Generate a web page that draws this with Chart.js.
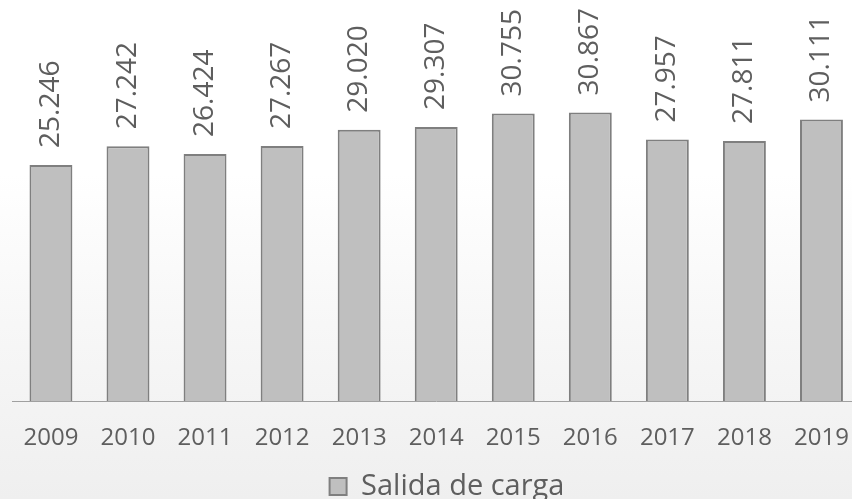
<!DOCTYPE html>
<html><head><meta charset="utf-8">
<script src="https://cdn.jsdelivr.net/npm/chart.js@4.4.1/dist/chart.umd.min.js"></script>
<style>
html,body{margin:0;padding:0;overflow:hidden;width:852px;height:499px;}
body{background:linear-gradient(to bottom,#ffffff 0%,#ffffff 35%,#f7f7f7 65%,#efefef 100%);}
#wrap{position:absolute;left:0;top:0;width:883px;height:499px;}
</style></head><body>
<div id="wrap"><canvas id="c"></canvas></div>
<script>
const categories = ['2009','2010','2011','2012','2013','2014','2015','2016','2017','2018','2019'];
const values = [25246, 27242, 26424, 27267, 29020, 29307, 30755, 30867, 27957, 27811, 30111];
const seriesName = 'Salida de carga';
const yMin = 0;
const yMax = 40000;

const TEXT = '#5e5e5e';
const FONT = "'Open Sans', 'DejaVu Sans', sans-serif";

function fmt(v){
  return String(v).replace(/\B(?=(\d{3})+(?!\d))/g, '.');
}

const valueLabelPlugin = {
  id: 'valueLabels',
  afterDatasetsDraw(chart){
    const ctx = chart.ctx;
    const meta = chart.getDatasetMeta(0);
    const data = chart.data.datasets[0].data;
    ctx.save();
    ctx.fillStyle = TEXT;
    ctx.font = "28px " + FONT;
    meta.data.forEach((bar, i) => {
      ctx.save();
      ctx.translate(bar.x, bar.y - 17);
      ctx.rotate(-Math.PI / 2);
      ctx.textAlign = 'left';
      ctx.textBaseline = 'middle';
      ctx.fillText(fmt(data[i]), 0, 0);
      ctx.restore();
    });
    ctx.restore();
  }
};

new Chart(document.getElementById('c'), {
  type: 'bar',
  data: {
    labels: categories,
    datasets: [{
      label: seriesName,
      data: values,
      backgroundColor: '#bfbfbf',
      borderColor: '#7f7f7f',
      borderWidth: 2,
      barPercentage: 0.557,
      categoryPercentage: 1.0
    }]
  },
  options: {
    responsive: true,
    maintainAspectRatio: false,
    animation: false,
    devicePixelRatio: 1,
    layout: { padding: { top: 27, left: 11, right: 0, bottom: -12 } },
    plugins: {
      tooltip: { enabled: false },
      legend: {
        position: 'bottom',
        labels: {
          color: TEXT,
          font: { family: FONT, size: 29 },
          boxWidth: 17,
          boxHeight: 17,
          padding: 0
        }
      }
    },
    scales: {
      x: {
        grid: { display: false, drawTicks: false },
        border: { display: true, color: '#a0a0a0', width: 1 },
        ticks: {
          color: TEXT,
          font: { family: FONT, size: 24 },
          padding: 23,
          maxRotation: 0,
          autoSkip: false
        },
        afterFit(s){ s.height = 71; }
      },
      y: {
        position: 'right',
        min: yMin,
        max: yMax,
        grid: { display: false, drawTicks: false },
        border: { display: false },
        ticks: { display: false },
        afterFit(s){ s.width = 23; }
      }
    }
  },
  plugins: [valueLabelPlugin]
});
</script>
</body></html>
